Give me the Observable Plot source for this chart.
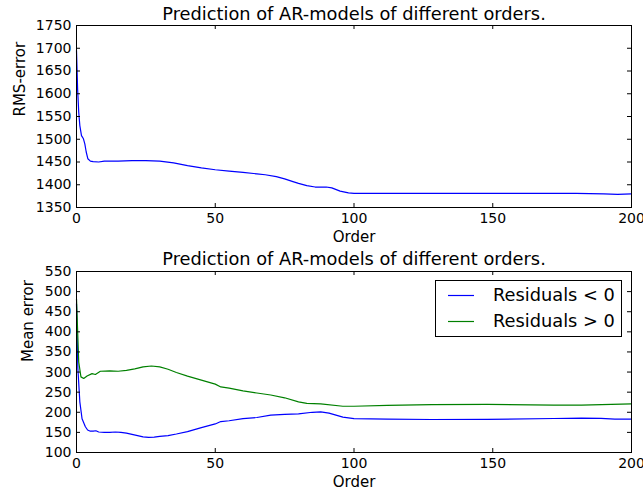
<!DOCTYPE html>
<html>
<head>
<meta charset="utf-8">
<script src="https://cdn.jsdelivr.net/npm/d3@7"></script>
<script src="https://cdn.jsdelivr.net/npm/@observablehq/plot@0.6"></script>
<style>
  html, body { margin: 0; padding: 0; background: #fff; }
  #wrap { position: relative; width: 643px; height: 497px; font-family: "DejaVu Sans", sans-serif; }
  #wrap > svg { display: block; }
  #legend { position: absolute; left: 435px; top: 280px; width: 185px; height: 55px; border: 1px solid #000; background: #fff; font-size: 17.8px; color: #000; }
  .row { position: absolute; left: 0; height: 22px; width: 185px; }
  .sw { position: absolute; left: 12px; top: 6px; }
  .lab { position: absolute; left: 57px; top: -1px; white-space: nowrap; line-height: 22px; }
</style>
</head>
<body>
<div id="wrap"></div>
<script>
// ---- data ----
const titleText = "Prediction of AR-models of different orders.";
const xLabel = "Order";
const topYLabel = "RMS-error";
const botYLabel = "Mean error";
const seriesNames = ["Residuals < 0", "Residuals > 0"];
const seriesColors = ["#0000ff", "#008000"];

const xTicks = [0, 50, 100, 150, 200];
const topYTicks = [1350, 1400, 1450, 1500, 1550, 1600, 1650, 1700, 1750];
const botYTicks = [100, 150, 200, 250, 300, 350, 400, 450, 500, 550];

const rmsOrder = [0, 0.4, 0.8, 1.2, 1.8, 2.5, 3, 3.5, 4.1, 5, 6, 8, 10, 15, 20, 25, 30, 35, 40, 45, 50, 55, 60, 65, 68, 72, 75, 78, 80, 83, 86, 90, 92, 95, 98, 100, 105, 150, 180, 190, 195, 200];
const rmsValue = [1695, 1610, 1560, 1530, 1508, 1501, 1490, 1472, 1457, 1452, 1451, 1450, 1452, 1452, 1453, 1453, 1452, 1448, 1442, 1437, 1433, 1430, 1427, 1424, 1422, 1418, 1413, 1407, 1403, 1398, 1395, 1395, 1393, 1386, 1382, 1381, 1381, 1381, 1381, 1380, 1379, 1380];

const negOrder = [0, 0.5, 1.2, 2, 3.2, 4, 5, 6, 7, 8, 10, 12, 14, 16, 18, 20, 22, 24, 26, 28, 30, 33, 36, 40, 45, 50, 52, 55, 60, 65, 70, 75, 80, 85, 88, 91, 96, 100, 112, 128, 148, 172, 182, 189, 194, 200];
const negValue = [470, 308, 226, 184, 164, 156, 153, 153, 154, 151, 150, 150, 151, 150, 148, 145, 142, 139, 137.5, 138, 140, 142, 146, 152, 162, 171, 177, 179, 184, 187, 193, 195, 196, 200, 201, 198, 188, 184, 183, 182, 182.5, 184.5, 185.5, 185, 183, 183];

const posOrder = [0, 0.8, 1.6, 2.6, 3.8, 5.6, 6.8, 8.6, 12, 15, 18, 21, 24, 27, 30, 33, 36, 40, 45, 50, 52, 55, 60, 65, 70, 75, 80, 83, 88, 96, 100, 112, 128, 148, 172, 182, 200];
const posValue = [482, 325, 288, 284, 290, 296, 294, 302, 303, 302, 304, 308, 313, 315, 313, 307, 299, 290, 280, 270, 263, 260, 253, 248, 243, 236, 226, 222, 221, 215, 215, 217, 219, 219.5, 218, 218, 221];

// ---- tables ----
const rmsTable = rmsOrder.map((o, i) => ({order: o, value: rmsValue[i]}));
const residTable = [
  ...negOrder.map((o, i) => ({order: o, value: negValue[i], series: seriesNames[0]})),
  ...posOrder.map((o, i) => ({order: o, value: posValue[i], series: seriesNames[1]}))
];

const fontName = "DejaVu Sans";
const figW = 643;
const mLeft = 76, mRight = 12, tickLen = 4;

function panel({height, marginTop, marginBottom, yDomain, yTicks, yLabel, yLabelDx, titleDy, marks}) {
  const innerW = figW - mLeft - mRight;
  const innerH = height - marginTop - marginBottom;
  return Plot.plot({
    width: figW,
    height,
    marginTop,
    marginBottom,
    marginLeft: mLeft,
    marginRight: mRight,
    style: {fontFamily: fontName, fontSize: "14px", color: "#000", background: "#fff", overflow: "visible"},
    x: {domain: [0, 200]},
    y: {domain: yDomain},
    color: {domain: seriesNames, range: seriesColors},
    marks: [
      ...marks,
      // inward ticks on all four sides
      Plot.ruleX(xTicks, {x: d => d, insetTop: innerH - tickLen, stroke: "#000", strokeWidth: 1}),
      Plot.ruleX(xTicks, {x: d => d, insetBottom: innerH - tickLen, stroke: "#000", strokeWidth: 1}),
      Plot.ruleY(yTicks, {y: d => d, insetRight: innerW - tickLen, stroke: "#000", strokeWidth: 1}),
      Plot.ruleY(yTicks, {y: d => d, insetLeft: innerW - tickLen, stroke: "#000", strokeWidth: 1}),
      Plot.frame({stroke: "#000", strokeWidth: 1}),
      Plot.axisX(xTicks, {anchor: "bottom", tickSize: 0, tickPadding: 6, label: null, fontSize: 14, tickFormat: d3.format("d")}),
      Plot.axisY(yTicks, {anchor: "left", tickSize: 0, tickPadding: 5, label: null, fontSize: 14, tickFormat: d3.format("d")}),
      Plot.text([titleText], {frameAnchor: "top", dy: titleDy, fontSize: 17.8, fill: "#000"}),
      Plot.text([xLabel], {frameAnchor: "bottom", dy: 34, fontSize: 15, fill: "#000"}),
      Plot.text([yLabel], {frameAnchor: "left", dx: yLabelDx, rotate: -90, fontSize: 15, fill: "#000"})
    ]
  });
}

const topPanel = panel({
  height: 248, marginTop: 25, marginBottom: 41,
  yDomain: [1350, 1750], yTicks: topYTicks, yLabel: topYLabel, yLabelDx: -56, titleDy: -18,
  marks: [Plot.line(rmsTable, {x: "order", y: "value", stroke: seriesColors[0], strokeWidth: 1.2})]
});

const bottomPanel = panel({
  height: 249, marginTop: 23, marginBottom: 45,
  yDomain: [100, 550], yTicks: botYTicks, yLabel: botYLabel, yLabelDx: -48, titleDy: -19,
  marks: [Plot.line(residTable, {x: "order", y: "value", z: "series", stroke: "series", strokeWidth: 1.2})]
});

const wrap = document.getElementById("wrap");
wrap.appendChild(topPanel);
wrap.appendChild(bottomPanel);

// legend (inside lower axes, upper right)
const leg = document.createElement("div");
leg.id = "legend";
seriesNames.forEach((name, i) => {
  const row = document.createElement("div");
  row.className = "row";
  row.style.top = (4 + i * 26) + "px";
  const sw = document.createElementNS("http://www.w3.org/2000/svg", "svg");
  sw.setAttribute("class", "sw");
  sw.setAttribute("width", "28");
  sw.setAttribute("height", "10");
  const ln = document.createElementNS("http://www.w3.org/2000/svg", "line");
  ln.setAttribute("x1", "0"); ln.setAttribute("x2", "26");
  ln.setAttribute("y1", "4.5"); ln.setAttribute("y2", "4.5");
  ln.setAttribute("stroke", seriesColors[i]);
  ln.setAttribute("stroke-width", "1.2");
  sw.appendChild(ln);
  const lab = document.createElement("div");
  lab.className = "lab";
  lab.textContent = name;
  row.appendChild(sw);
  row.appendChild(lab);
  leg.appendChild(row);
});
wrap.appendChild(leg);
</script>
</body>
</html>
